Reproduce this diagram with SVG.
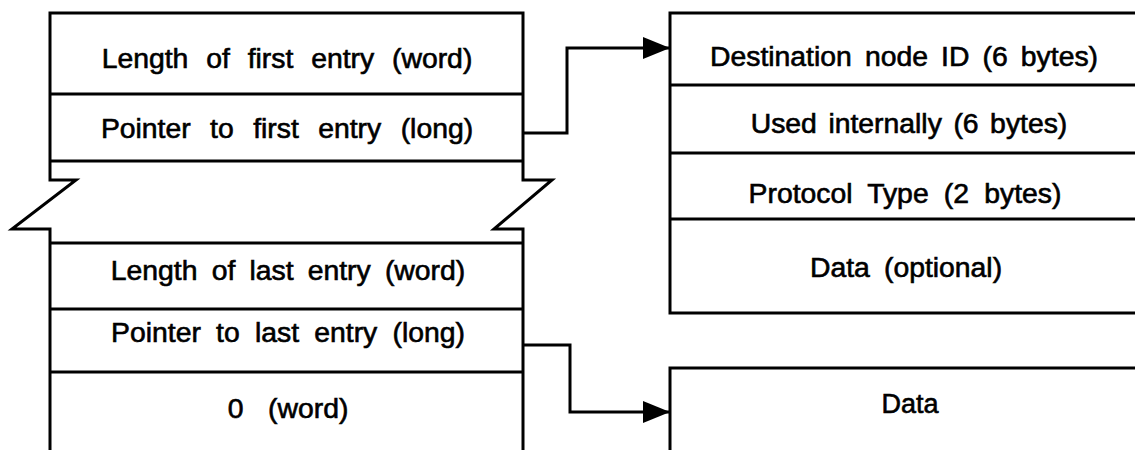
<svg xmlns="http://www.w3.org/2000/svg" width="1135" height="450" viewBox="0 0 1135 450">
<style>
.ln{fill:none;stroke:#000;stroke-width:3;stroke-linejoin:miter}
.t{font-family:"Liberation Sans",Arial,sans-serif;font-size:27px;fill:#000;stroke:#000;stroke-width:0.6;text-anchor:middle}
</style>
<defs>
<marker id="ah" viewBox="0 0 27 22" refX="27" refY="11" markerWidth="27" markerHeight="22" markerUnits="userSpaceOnUse" orient="auto">
<path d="M0,0 L27,11 L0,22 Z" fill="#000"/>
</marker>
</defs>
<rect width="1135" height="450" fill="#fff"/>
<g id="list">
<path class="ln" d="M50,455 V229 H12 L76,180 H50 V13 H523 V180 H552 L494,229 H523 V455"/>
<line class="ln" x1="50" y1="94" x2="523" y2="94"/>
<line class="ln" x1="50" y1="161" x2="523" y2="161"/>
<line class="ln" x1="50" y1="243" x2="523" y2="243"/>
<line class="ln" x1="50" y1="309" x2="523" y2="309"/>
<line class="ln" x1="50" y1="372" x2="523" y2="372"/>
<text class="t" transform="translate(287,68) scale(1.05,1)" word-spacing="9.5">Length of first entry (word)</text>
<text class="t" transform="translate(287,138) scale(1.05,1)" word-spacing="11">Pointer to first entry (long)</text>
<text class="t" transform="translate(288,280) scale(1.05,1)" word-spacing="6">Length of last entry (word)</text>
<text class="t" transform="translate(288,342) scale(1.05,1)" word-spacing="7">Pointer to last entry (long)</text>
<text class="t" transform="translate(288,418) scale(1.05,1)" word-spacing="16">0 (word)</text>
</g>
<g id="entry">
<path class="ln" d="M1140,13 H670 V313 H1140"/>
<line class="ln" x1="670" y1="85" x2="1140" y2="85"/>
<line class="ln" x1="670" y1="153" x2="1140" y2="153"/>
<line class="ln" x1="670" y1="219" x2="1140" y2="219"/>
<text class="t" transform="translate(904,66) scale(1.05,1)" word-spacing="5">Destination node ID (6 bytes)</text>
<text class="t" transform="translate(909,133) scale(1.05,1)" word-spacing="3.5">Used internally (6 bytes)</text>
<text class="t" transform="translate(905,203) scale(1.05,1)" word-spacing="7">Protocol Type (2 bytes)</text>
<text class="t" transform="translate(906,277) scale(1.05,1)" word-spacing="6">Data (optional)</text>
</g>
<g id="data">
<path class="ln" d="M670,455 V368 H1140"/>
<text class="t" transform="translate(910,413)">Data</text>
</g>
<g id="connectors">
<path class="ln" d="M523,133 H567 V48 H670" marker-end="url(#ah)"/>
<path class="ln" d="M523,345 H570 V412 H670" marker-end="url(#ah)"/>
</g>
</svg>
